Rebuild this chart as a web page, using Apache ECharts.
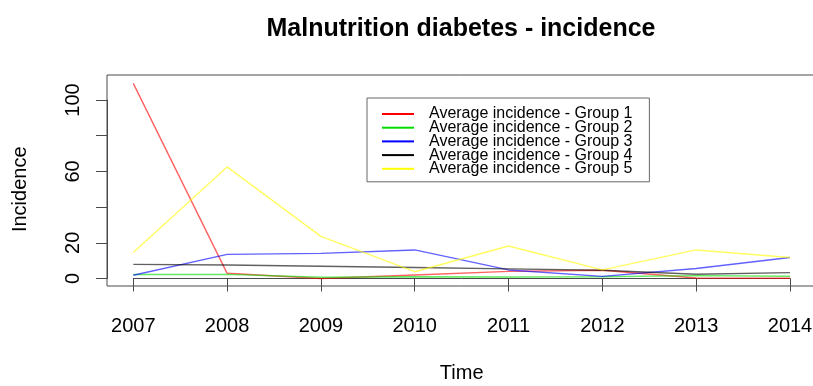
<!DOCTYPE html>
<html>
<head>
<meta charset="utf-8">
<script src="https://cdn.jsdelivr.net/npm/echarts@6/dist/echarts.min.js"></script>
<style>
  html, body { margin: 0; padding: 0; background: #fff; }
  #chart { width: 813px; height: 386px; }
</style>
</head>
<body>
<div id="chart"></div>
<script>
// Years on the horizontal axis
const years = [2007, 2008, 2009, 2010, 2011, 2012, 2013, 2014];

// Average incidence per group
const group1 = [109.3, 2.9, 0.0, 2.0, 4.0, 4.6, 0.3, 0.1];
const group2 = [2.2, 2.3, 0.7, 1.0, 0.8, 1.0, 1.6, 1.3];
const group3 = [1.8, 13.5, 14.1, 16.0, 4.8, 1.2, 5.6, 11.8];
const group4 = [7.9, 7.6, 6.9, 6.2, 5.4, 4.6, 2.4, 3.3];
const group5 = [14.6, 62.5, 23.6, 3.8, 18.2, 4.8, 16.0, 11.8];

const groupNames = [
  'Average incidence - Group 1',
  'Average incidence - Group 2',
  'Average incidence - Group 3',
  'Average incidence - Group 4',
  'Average incidence - Group 5'
];
const groupColors = ['#ff0000', '#00dd00', '#0000ff', '#000000', '#ffff00'];
const groupValues = [group1, group2, group3, group4, group5];

// Y tick labels that are printed (the others are left blank)
const yLabelsShown = [0, 20, 60, 100];

const FONT = '"Liberation Sans", Arial, Helvetica, sans-serif';
const AXIS_COLOR = '#4a4a4a';

const series = groupValues.map((vals, i) => ({
  name: groupNames[i],
  type: 'line',
  xAxisIndex: 0,
  yAxisIndex: 0,
  clip: false,
  symbol: 'none',
  color: groupColors[i],
  lineStyle: { width: 1.4, opacity: 0.62 },
  data: years.map((y, k) => [y, vals[k]])
}));

const chart = echarts.init(document.getElementById('chart'), null, { renderer: 'canvas' });

chart.setOption({
  animation: false,
  backgroundColor: '#fff',
  title: {
    text: 'Malnutrition diabetes - incidence',
    left: 461,
    top: 17,
    padding: 0,
    textAlign: 'center',
    textStyle: { fontFamily: FONT, fontSize: 25, fontWeight: 'bold', color: '#000' }
  },
  legend: {
    orient: 'vertical',
    left: 367,
    top: 98,
    padding: [8, 17, 5, 15],
    borderColor: '#666',
    borderWidth: 1,
    itemGap: -2.3,
    itemWidth: 32,
    itemHeight: 2,
    icon: 'rect',
    itemStyle: { opacity: 1 },
    textStyle: {
      fontFamily: FONT,
      fontSize: 16,
      color: '#000',
      padding: [0, 0, 0, 10]
    },
    data: groupNames
  },
  grid: [
    // data area: 2007..2014 horizontally, 0..100 vertically
    { left: 133.3, right: 23, top: 100, bottom: 107.5, show: false,
      containLabel: false, outerBoundsMode: 'none' },
    // surrounding plot box
    { left: 107, top: 75, width: 709, height: 211, show: true,
      containLabel: false, outerBoundsMode: 'none',
      borderColor: AXIS_COLOR, borderWidth: 1, backgroundColor: 'transparent' }
  ],
  xAxis: [
    {
      type: 'value',
      gridIndex: 0,
      min: 2007,
      max: 2014,
      interval: 1,
      offset: 7.5,
      name: 'Time',
      nameLocation: 'middle',
      nameGap: 77,
      nameTextStyle: { fontFamily: FONT, fontSize: 20, color: '#000' },
      axisLine: { show: true, lineStyle: { color: AXIS_COLOR, width: 1 } },
      axisTick: { show: true, inside: false, length: 13, lineStyle: { color: AXIS_COLOR } },
      axisLabel: {
        fontFamily: FONT, fontSize: 20, color: '#000', margin: 30,
        formatter: v => String(v)
      },
      splitLine: { show: false }
    },
    { type: 'value', gridIndex: 1, show: false, min: 0, max: 1 }
  ],
  yAxis: [
    {
      type: 'value',
      gridIndex: 0,
      min: 0,
      max: 100,
      interval: 20,
      offset: 26.3,
      name: 'Incidence',
      nameLocation: 'middle',
      nameGap: 77,
      nameRotate: 90,
      nameTextStyle: { fontFamily: FONT, fontSize: 20, color: '#000' },
      axisLine: { show: true, lineStyle: { color: AXIS_COLOR, width: 1 } },
      axisTick: { show: true, inside: false, length: 11, lineStyle: { color: AXIS_COLOR } },
      axisLabel: {
        fontFamily: FONT, fontSize: 20, color: '#000', rotate: 90, margin: 24,
        formatter: v => (yLabelsShown.indexOf(v) >= 0 ? String(v) : '')
      },
      splitLine: { show: false }
    },
    { type: 'value', gridIndex: 1, show: false, min: 0, max: 1 }
  ],
  series: series
});
</script>
</body>
</html>
